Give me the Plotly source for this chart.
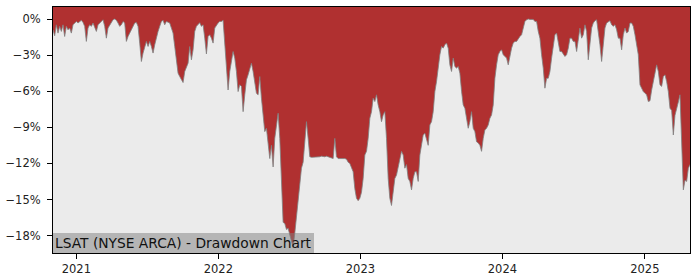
import pandas as pd
import plotly.graph_objects as go

TITLE = "LSAT (NYSE ARCA) - Drawdown Chart"
START_DATE = "2020-11-02"
END_DATE = "2025-04-27"

# Drawdown in percent, sampled evenly between START_DATE and END_DATE
DRAWDOWN = [
    -0.9, -1.39, -0.48, -1.17, -0.61, -1.03, -0.48, -1.45, -0.61, -0.89,
    -0.75, -1.17, -0.48, -0.33, -0.2, -0.33, -0.2, -0.11, -0.28, -0.61,
    -1.86, -0.75, -0.48, -0.61, -0.33, -0.75, -1.03, -0.48, -0.33, -0.2,
    -0.06, -0.61, -1.59, -0.75, -0.48, -0.2, -0.06, 0.0, -0.1, -0.33,
    -0.61, -0.48, -0.2, -0.33, -1.86, -1.45, -1.17, -1.03, -0.61, -0.33,
    -0.28, -0.61, -2.0, -3.53, -2.83, -2.28, -1.86, -2.28, -1.86, -2.28,
    -2.83, -2.14, -1.45, -1.03, -0.61, -0.2, -0.11, -0.48, -0.2, -0.28,
    -0.33, -0.75, -1.17, -2.28, -3.39, -4.5, -4.78, -5.06, -5.28, -4.36,
    -3.95, -3.67, -2.28, -3.39, -2.56, -1.03, -0.61, -0.48, -0.3, -0.61,
    -0.48, -1.59, -2.9, -1.45, -1.31, -1.59, -2.0, -0.75, -0.48, -0.33,
    -0.2, -0.2, -0.1, -2.14, -4.5, -5.9, -4.36, -3.67, -2.7, -3.25,
    -4.36, -6.03, -5.47, -5.6, -7.7, -6.3, -5.06, -4.64, -4.08, -3.67,
    -4.36, -5.2, -6.17, -6.3, -4.78, -6.58, -8.25, -9.36, -9.08, -10.2,
    -11.6, -10.5, -12.3, -9.92, -8.8, -7.83, -9.92, -14.4, -16.9, -17.0,
    -17.5, -17.4, -18.0, -18.5, -19.0, -17.8, -16.4, -15.3, -14.0, -12.4,
    -11.9, -9.92, -8.53, -9.92, -11.45, -11.5, -11.5, -11.45, -11.5, -11.45,
    -11.45, -11.4, -11.45, -11.45, -11.4, -11.45, -11.45, -11.5, -11.6, -9.92,
    -11.45, -11.6, -11.6, -11.55, -11.6, -11.6, -11.65, -11.9, -12.0, -12.4,
    -12.7, -14.1, -14.9, -15.1, -14.9, -14.4, -13.25, -11.3, -11.0, -9.92,
    -8.25, -7.7, -6.58, -6.86, -6.3, -7.14, -7.7, -8.53, -7.97, -7.7,
    -9.92, -13.25, -14.9, -15.5, -14.4, -13.25, -12.97, -12.4, -11.6, -11.0,
    -11.3, -12.4, -12.1, -13.25, -13.5, -14.2, -13.25, -12.7, -12.7, -13.5,
    -11.3, -10.5, -9.64, -9.5, -9.92, -10.5, -8.8, -8.53, -7.7, -6.03,
    -5.2, -3.81, -2.97, -2.28, -2.42, -2.14, -2.0, -2.42, -3.81, -4.36,
    -3.25, -3.95, -4.08, -3.95, -4.5, -6.0, -7.14, -7.42, -8.25, -9.08,
    -8.53, -7.7, -9.08, -9.36, -10.2, -10.3, -10.5, -11.0, -9.92, -9.22,
    -9.08, -8.8, -8.25, -7.97, -7.14, -4.92, -3.81, -2.97, -2.7, -2.56,
    -2.97, -3.11, -3.25, -3.81, -2.97, -2.42, -2.0, -1.86, -1.86, -1.59,
    -1.45, -1.31, -0.75, -0.2, -0.06, 0.0, -0.03, 0.0, -0.03, -0.2,
    -0.2, -1.03, -1.59, -2.97, -4.08, -5.75, -4.92, -4.92, -4.36, -3.25,
    -2.42, -1.31, -1.17, -1.86, -2.7, -2.7, -2.97, -3.11, -2.97, -2.42,
    -1.59, -1.59, -1.86, -1.86, -2.7, -1.5, -0.75, -1.59, -1.31, -0.48,
    -1.03, -3.39, -2.14, -0.75, -0.33, -0.14, -0.06, -1.03, -2.14, -3.53,
    -2.14, -0.75, -0.33, -0.2, -0.14, -0.48, -0.61, -0.48, -0.89, -1.59,
    -1.59, -2.56, -1.31, -0.75, -1.17, -1.03, -0.33, -0.33, -0.61, -1.31,
    -2.14, -2.97, -5.47, -5.75, -6.03, -6.17, -6.3, -6.86, -6.8, -5.9,
    -5.2, -4.6, -3.81, -4.36, -5.47, -5.6, -4.78, -4.64, -5.2, -6.03,
    -7.42, -7.6, -9.64, -8.0, -7.3, -6.9, -6.3, -10.5, -14.2, -13.4,
    -13.5, -12.4, -12.1,
]

Y_TICKS = [0, -3, -6, -9, -12, -15, -18]
Y_TICK_TEXT = [("\u2212" if v < 0 else "") + f"{abs(v)}%" for v in Y_TICKS]
X_TICKS = ["2021-01-01", "2022-01-01", "2023-01-01", "2024-01-01", "2025-01-01"]
X_TICK_TEXT = ["2021", "2022", "2023", "2024", "2025"]

Y_MIN, Y_MAX = -19.45, 1.0

dates = pd.date_range(START_DATE, END_DATE, periods=len(DRAWDOWN))

fig = go.Figure()
# invisible baseline at the top of the axis so the fill runs from the top down to the curve
fig.add_trace(go.Scatter(
    x=dates, y=[Y_MAX] * len(DRAWDOWN), mode="lines",
    line=dict(width=0, color="rgba(0,0,0,0)"), hoverinfo="skip", showlegend=False,
))
fig.add_trace(go.Scatter(
    x=dates, y=DRAWDOWN, mode="lines", fill="tonexty",
    fillcolor="#B03030", line=dict(color="rgba(128,128,128,0.8)", width=1),
    showlegend=False,
))

axis_common = dict(
    showline=True, linecolor="black", linewidth=1, mirror=True,
    ticks="outside", ticklen=5, tickcolor="black", tickwidth=1,
    showgrid=False, zeroline=False, automargin=False,
    tickfont=dict(family="DejaVu Sans", size=11.5, color="#222"),
)

fig.update_xaxes(
    range=[dates[0], dates[-1]], tickvals=X_TICKS, ticktext=X_TICK_TEXT, **axis_common,
)
fig.update_yaxes(
    range=[Y_MIN, Y_MAX], tickvals=Y_TICKS, ticktext=Y_TICK_TEXT,
    ticklabelstandoff=4, **axis_common,
)

fig.add_annotation(
    text=TITLE, xref="paper", yref="paper", x=0, y=0,
    xanchor="left", yanchor="bottom", showarrow=False,
    font=dict(family="DejaVu Sans", size=13.8, color="#111"),
    bgcolor="rgba(128,128,128,0.5)", borderpad=2, borderwidth=0,
)

fig.update_layout(
    width=700, height=280,
    margin=dict(l=53, r=10, t=7, b=27),
    plot_bgcolor="#EBEBEB", paper_bgcolor="white",
)

fig.write_html("out.html")
